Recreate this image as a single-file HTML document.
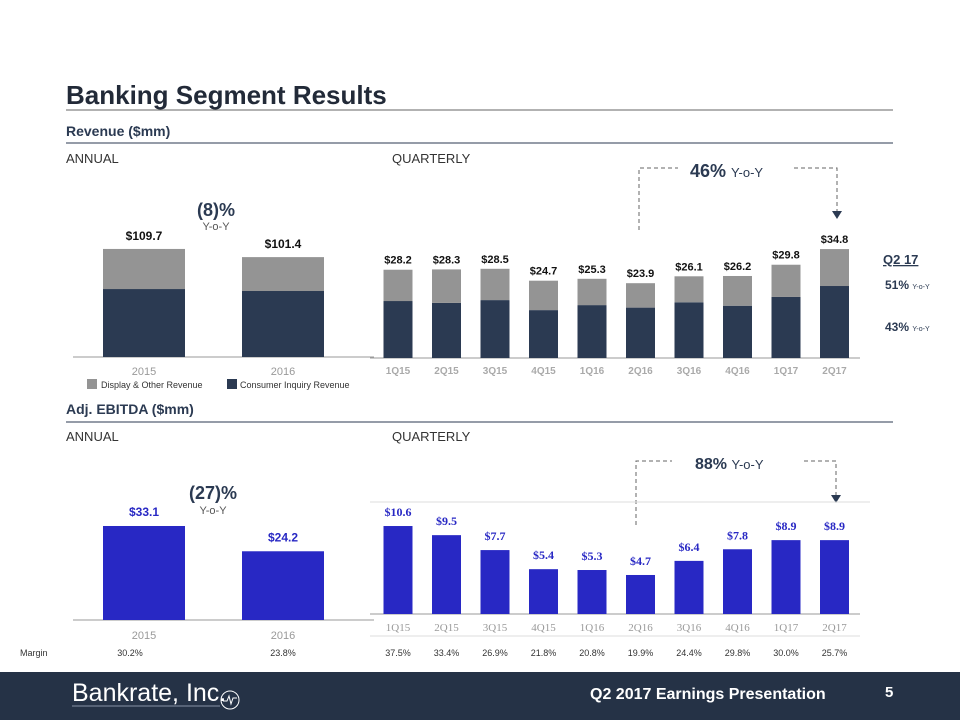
<!DOCTYPE html>
<html><head><meta charset="utf-8"><style>
body{margin:0;width:960px;height:720px;overflow:hidden;background:#fff;font-family:"Liberation Sans",sans-serif}
svg text{font-family:"Liberation Sans",sans-serif}
svg text.serif{font-family:"Liberation Serif",serif}
</style></head><body>
<svg id="s" width="960" height="720" viewBox="0 0 960 720">
<text x="66" y="104" font-size="26" font-weight="bold" fill="#222a38">Banking Segment Results</text>
<line x1="66" y1="110" x2="893" y2="110" stroke="#666" stroke-width="1"/>
<text x="66" y="136" font-size="14" font-weight="bold" fill="#2b3a52">Revenue ($mm)</text>
<line x1="66" y1="143" x2="893" y2="143" stroke="#2b3a52"/>
<text x="66" y="163" font-size="13" fill="#333">ANNUAL</text>
<text x="392" y="163" font-size="13" fill="#333">QUARTERLY</text>
<text x="66" y="414" font-size="14" font-weight="bold" fill="#2b3a52">Adj. EBITDA ($mm)</text>
<line x1="66" y1="422" x2="893" y2="422" stroke="#2b3a52"/>
<text x="66" y="441" font-size="13" fill="#333">ANNUAL</text>
<text x="392" y="441" font-size="13" fill="#333">QUARTERLY</text>

<text x="216" y="216" font-size="18" font-weight="bold" fill="#2b3a52" text-anchor="middle">(8)%</text>
<text x="216" y="230" font-size="11" fill="#555" text-anchor="middle">Y-o-Y</text>
<text x="213" y="499" font-size="18" font-weight="bold" fill="#2b3a52" text-anchor="middle">(27)%</text>
<text x="213" y="514" font-size="11" fill="#555" text-anchor="middle">Y-o-Y</text>

<g stroke="#666" stroke-dasharray="4,3" fill="none">
<path d="M639 230 V168 H678"/><path d="M794 168 H837 V212"/></g>
<polygon points="832,211 842,211 837,219" fill="#2b3a52"/>
<text x="690" y="177" font-size="18" font-weight="bold" fill="#2b3a52">46% <tspan font-size="13" font-weight="normal">Y-o-Y</tspan></text>

<g stroke="#666" stroke-dasharray="4,3" fill="none">
<path d="M636 525 V461 H672"/><path d="M804 461 H836 V496"/></g>
<polygon points="831,495 841,495 836,503" fill="#2b3a52"/>
<text x="695" y="469" font-size="16" font-weight="bold" fill="#2b3a52">88% <tspan font-size="13" font-weight="normal">Y-o-Y</tspan></text>

<text x="883" y="264" font-size="13" font-weight="bold" fill="#2b3a52" text-decoration="underline">Q2 17</text>
<text x="885" y="289" font-size="12" font-weight="bold" fill="#2b3a52">51% <tspan font-size="7" font-weight="normal">Y-o-Y</tspan></text>
<text x="885" y="331" font-size="12" font-weight="bold" fill="#2b3a52">43% <tspan font-size="7" font-weight="normal">Y-o-Y</tspan></text>

<rect x="87" y="379" width="10" height="10" fill="#949494"/>
<text x="101" y="388" font-size="9" fill="#333">Display &amp; Other Revenue</text>
<rect x="227" y="379" width="10" height="10" fill="#2b3a52"/>
<text x="240" y="388" font-size="9" fill="#333">Consumer Inquiry Revenue</text>

<line x1="370" y1="502" x2="870" y2="502" stroke="#ddd"/>
<line x1="370" y1="636" x2="860" y2="636" stroke="#ddd"/>
<text x="20" y="656" font-size="9" fill="#333">Margin</text>

<g id="charts"></g>

<rect x="0" y="672" width="960" height="48" fill="#253246"/>
<text x="72" y="701" font-size="25" fill="#fff">Bankrate, Inc.</text>
<line x1="72" y1="706" x2="220" y2="706" stroke="#8893a6"/>
<circle cx="230" cy="700" r="9" fill="none" stroke="#fff"/>
<polyline points="223,701 227,701 229,696 231,704 233,698 237,698" fill="none" stroke="#fff"/>
<text x="590" y="699" font-size="16" font-weight="bold" fill="#fff">Q2 2017 Earnings Presentation</text>
<text x="885" y="697" font-size="15" font-weight="bold" fill="#fff">5</text>
</svg>
<script>
const annualYears = ["2015","2016"];
const annualConsumer = [69.0, 67.0];
const annualDisplay = [40.7, 34.4];
const annualTotal = ["$109.7","$101.4"];
const quarters = ["1Q15","2Q15","3Q15","4Q15","1Q16","2Q16","3Q16","4Q16","1Q17","2Q17"];
const qConsumer = [18.2, 17.6, 18.5, 15.3, 16.9, 16.1, 17.8, 16.7, 19.5, 23.0];
const qTotal = [28.2, 28.3, 28.5, 24.7, 25.3, 23.9, 26.1, 26.2, 29.8, 34.8];
const annualEbitda = [33.1, 24.2];
const qEbitda = [10.6, 9.5, 7.7, 5.4, 5.3, 4.7, 6.4, 7.8, 8.9, 8.9];
const annualMargin = ["30.2%","23.8%"];
const qMargin = ["37.5%","33.4%","26.9%","21.8%","20.8%","19.9%","24.4%","29.8%","30.0%","25.7%"];

const NS="http://www.w3.org/2000/svg";
const g=document.getElementById('charts');
function mk(tag,attrs,txt){const e=document.createElementNS(NS,tag);for(const k in attrs)e.setAttribute(k,attrs[k]);if(txt!==undefined)e.textContent=txt;g.appendChild(e);return e;}
const C_NAVY="#2b3a52",C_GRAY="#949494",C_BLUE="#2828c4";
const annX=i=>144+i*139, annW=82;
const qX=i=>398+i*48.5, qW=29;
const yRevA=v=>357-v*0.985;
const yRevQ=v=>358-v*3.13;
const yEbA=v=>620-v*2.84;
const yEbQ=v=>614-v*8.3;

let e=mk('line',{x1:73,y1:357,x2:374,y2:357,stroke:'#999'});


annualYears.forEach((y,i)=>{
 const x=annX(i)-annW/2, c=annualConsumer[i], t=c+annualDisplay[i];
 let r=mk('rect',{x:x,y:yRevA(c),width:annW,height:yRevA(0)-yRevA(c),fill:C_NAVY});
 
 
 r=mk('rect',{x:x,y:yRevA(t),width:annW,height:yRevA(c)-yRevA(t),fill:C_GRAY});
 
 
 let l=mk('text',{x:annX(i),y:yRevA(t)-9,'font-size':12,'font-weight':'bold','text-anchor':'middle',fill:'#111'},annualTotal[i]);
 
 
 l=mk('text',{x:annX(i),y:375,'font-size':11,'text-anchor':'middle',fill:'#999'},y);
 
 
});
e=mk('line',{x1:370,y1:358,x2:860,y2:358,stroke:'#999'});


quarters.forEach((q,i)=>{
 const x=qX(i)-qW/2, c=qConsumer[i], t=qTotal[i];
 let r=mk('rect',{x:x,y:yRevQ(c),width:qW,height:yRevQ(0)-yRevQ(c),fill:C_NAVY});
 
 
 r=mk('rect',{x:x,y:yRevQ(t),width:qW,height:yRevQ(c)-yRevQ(t),fill:C_GRAY});
 
 
 let l=mk('text',{x:qX(i),y:yRevQ(t)-6,'font-size':11,'font-weight':'bold','text-anchor':'middle',fill:'#111'},'$'+t.toFixed(1));
 
 
 l=mk('text',{x:qX(i),y:374,'font-size':10,'font-weight':'bold','text-anchor':'middle',fill:'#aaa'},q);
 
 
});
e=mk('line',{x1:73,y1:620,x2:374,y2:620,stroke:'#999'});


annualYears.forEach((y,i)=>{
 const v=annualEbitda[i];
 let r=mk('rect',{x:annX(i)-annW/2,y:yEbA(v),width:annW,height:yEbA(0)-yEbA(v),fill:C_BLUE});
 
 
 let l=mk('text',{x:annX(i),y:yEbA(v)-10,'font-size':12,'font-weight':'bold','text-anchor':'middle',fill:C_BLUE},'$'+v.toFixed(1));
 
 
 l=mk('text',{x:annX(i),y:639,'font-size':11,'text-anchor':'middle',fill:'#999'},y);
 
 
 l=mk('text',{x:[130,283][i],y:656,'font-size':9,'text-anchor':'middle',fill:'#333'},annualMargin[i]);
 
 
});
e=mk('line',{x1:370,y1:614,x2:860,y2:614,stroke:'#999'});


quarters.forEach((q,i)=>{
 const v=qEbitda[i];
 let r=mk('rect',{x:qX(i)-qW/2,y:yEbQ(v),width:qW,height:yEbQ(0)-yEbQ(v),fill:C_BLUE});
 
 
 let l=mk('text',{x:qX(i),y:yEbQ(v)-10,'font-size':12,'font-weight':'bold','text-anchor':'middle',fill:C_BLUE,'class':'serif'},'$'+v.toFixed(1));
 
 
 l=mk('text',{x:qX(i),y:631,'font-size':11,'text-anchor':'middle',fill:'#999','class':'serif'},q);
 
 
 l=mk('text',{x:qX(i),y:656,'font-size':9,'text-anchor':'middle',fill:'#333'},qMargin[i]);
 
 
});
</script>
</body></html>
